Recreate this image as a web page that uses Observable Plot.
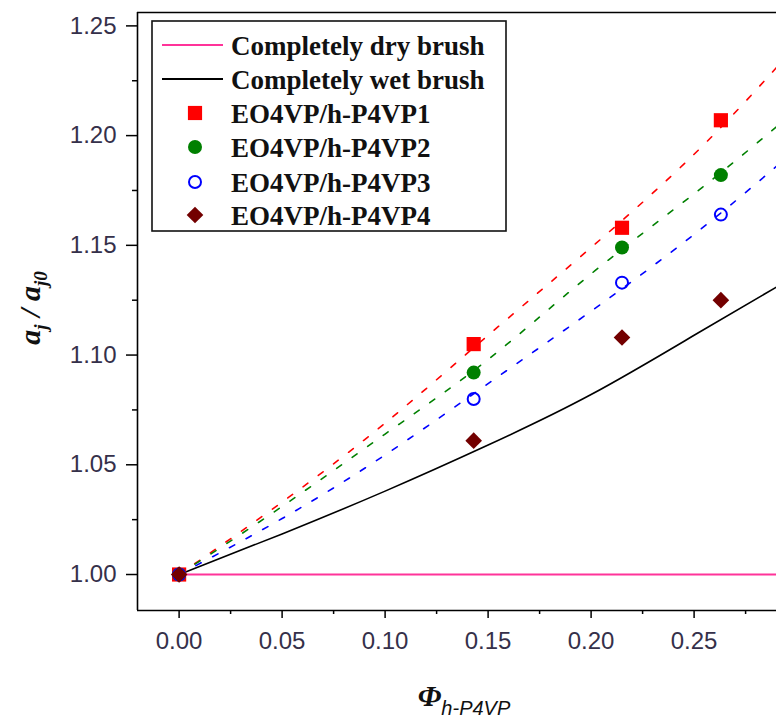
<!DOCTYPE html>
<html>
<head>
<meta charset="utf-8">
<script src="https://cdn.jsdelivr.net/npm/d3@7"></script>
<script src="https://cdn.jsdelivr.net/npm/@observablehq/plot@0.6"></script>
<style>
  body { margin: 0; background: #fff; }
  #chart svg { display: block; }
</style>
</head>
<body>
<div id="chart"></div>
<script>
// ---- data ----
const phiFit = [0, 0.05, 0.10, 0.15, 0.20, 0.25, 0.29];
const fitP1  = [1.000, 1.033, 1.069, 1.109, 1.149, 1.1915, 1.231];
const fitP2  = [1.000, 1.031, 1.064, 1.098, 1.137, 1.1735, 1.204];
const fitP3  = [1.000, 1.0255, 1.0545, 1.087, 1.120, 1.155, 1.186];
const wetBrush = [1.000, 1.0185, 1.038, 1.059, 1.082, 1.109, 1.131];
const dryBrush = [1.000, 1.000, 1.000, 1.000, 1.000, 1.000, 1.000];

const phiExp = [0, 0.143, 0.215, 0.263];
const expP1 = [1.000, 1.105, 1.158, 1.207];
const expP2 = [1.000, 1.092, 1.149, 1.182];
const expP3 = [1.000, 1.080, 1.133, 1.164];
const expP4 = [1.000, 1.061, 1.108, 1.125];

const legendLabels = ["Completely dry brush", "Completely wet brush",
  "EO4VP/h-P4VP1", "EO4VP/h-P4VP2", "EO4VP/h-P4VP3", "EO4VP/h-P4VP4"];

const xTicks = [0, 0.05, 0.10, 0.15, 0.20, 0.25];
const xMinor = [0.025, 0.075, 0.125, 0.175, 0.225, 0.275];
const yTicks = [1.00, 1.05, 1.10, 1.15, 1.20, 1.25];
const yMinor = [1.025, 1.075, 1.125, 1.175, 1.225];

// ---- styles ----
const colDry = "#ff3399", colWet = "#000000";
const colP1 = "#ff0000", colP2 = "#008000", colP3 = "#0000ff", colP4 = "#730000";
const tickText = "#35304a";

const rows = (xs, ys) => xs.map((x, i) => ({x, y: ys[i]}));
const xDomain = [-0.0202, 0.29];
const yDomain = [0.9836, 1.2561];

const dash = "6,13";
const plot = Plot.plot({
  width: 776, height: 719,
  marginLeft: 137, marginRight: 0, marginTop: 12, marginBottom: 109,
  x: {domain: xDomain},
  y: {domain: yDomain},
  style: {fontFamily: "'Liberation Sans', Arial, sans-serif", fontSize: "24px", background: "white", color: "black"},
  marks: [
    // frame (left, top, bottom)
    Plot.ruleX([xDomain[0]], {stroke: "#000", strokeWidth: 1.6}),
    Plot.ruleY([yDomain[1]], {stroke: "#000", strokeWidth: 1.6}),
    Plot.ruleY([yDomain[0]], {stroke: "#000", strokeWidth: 1.6}),
    // axes
    Plot.axisX({ticks: xTicks, tickSize: 8, tickPadding: 13, tickFormat: d3.format(".2f"), label: null,
                stroke: "#000", strokeWidth: 1.5, fill: tickText, fontSize: 24}),
    Plot.axisX({ticks: xMinor, tickSize: 4, text: null, label: null, stroke: "#000", strokeWidth: 1.5}),
    Plot.axisY({ticks: yTicks, tickSize: 11, tickPadding: 10, tickFormat: d3.format(".2f"), label: null,
                stroke: "#000", strokeWidth: 1.5, fill: tickText, fontSize: 24}),
    Plot.axisY({ticks: yMinor, tickSize: 5, text: null, label: null, stroke: "#000", strokeWidth: 1.5}),
    // model curves
    Plot.line(rows(phiFit, dryBrush), {x: "x", y: "y", stroke: colDry, strokeWidth: 1.8, clip: true}),
    Plot.line(rows(phiFit, wetBrush), {x: "x", y: "y", stroke: colWet, strokeWidth: 1.6, curve: "natural", clip: true}),
    Plot.line(rows(phiFit, fitP1), {x: "x", y: "y", stroke: colP1, strokeWidth: 1.6, strokeDasharray: dash, curve: "natural", clip: true}),
    Plot.line(rows(phiFit, fitP2), {x: "x", y: "y", stroke: colP2, strokeWidth: 1.6, strokeDasharray: dash, curve: "natural", clip: true}),
    Plot.line(rows(phiFit, fitP3), {x: "x", y: "y", stroke: colP3, strokeWidth: 1.6, strokeDasharray: dash, curve: "natural", clip: true}),
    // experimental points
    Plot.dot(rows(phiExp, expP1), {x: "x", y: "y", symbol: "square", r: 8, fill: colP1, stroke: "none"}),
    Plot.dot(rows(phiExp, expP2), {x: "x", y: "y", symbol: "circle", r: 7, fill: colP2, stroke: "none"}),
    Plot.dot(rows(phiExp, expP3), {x: "x", y: "y", symbol: "circle", r: 6, fill: "none", stroke: colP3, strokeWidth: 2}),
    Plot.dot(rows(phiExp, expP4), {x: "x", y: "y", symbol: "diamond2", r: 7.5, fill: colP4, stroke: "none"})
  ]
});

const svg = d3.select(plot);

// ---- legend ----
const lg = svg.append("g").attr("text-anchor", "start");
lg.append("rect").attr("x", 152).attr("y", 21).attr("width", 354).attr("height", 210)
  .attr("fill", "white").attr("stroke", "#111").attr("stroke-width", 1.6);
const rowY = [45, 79, 113, 147, 182, 215];
const lineCols = [colDry, colWet];
legendLabels.forEach((lab, i) => {
  const y = rowY[i];
  if (i < 2) {
    lg.append("line").attr("x1", 162).attr("x2", 223).attr("y1", y).attr("y2", y)
      .attr("stroke", lineCols[i]).attr("stroke-width", 1.8);
  } else {
    const sym = [d3.symbolSquare, d3.symbolCircle, d3.symbolCircle, d3.symbolDiamond2][i - 2];
    const r = [8, 7, 6, 7.5][i - 2];
    const p = lg.append("path").attr("transform", `translate(195,${y})`)
      .attr("d", d3.symbol(sym, Math.PI * r * r)());
    if (i === 4) p.attr("fill", "none").attr("stroke", colP3).attr("stroke-width", 2);
    else p.attr("fill", [colP1, colP2, null, colP4][i - 2]);
  }
  lg.append("text").attr("x", 231).attr("y", y + 10).attr("text-anchor", "start")
    .attr("font-family", "'Liberation Serif', 'Times New Roman', serif")
    .attr("font-weight", "bold").attr("font-size", 27).attr("fill", "#111")
    .text(lab);
});

// ---- axis titles ----
const yt = svg.append("text").attr("transform", "translate(40,308) rotate(-90)")
  .attr("text-anchor", "middle")
  .attr("font-family", "'Liberation Serif', 'Times New Roman', serif")
  .attr("font-style", "italic").attr("font-weight", "bold").attr("font-size", 30).attr("fill", "#111");
yt.append("tspan").text("a");
yt.append("tspan").attr("font-size", 19).attr("dy", 7).text("j");
yt.append("tspan").attr("dy", -7).text(" / a");
yt.append("tspan").attr("font-size", 19).attr("dy", 7).text("j0");

const xt = svg.append("text").attr("x", 464).attr("y", 706).attr("text-anchor", "middle")
  .attr("fill", "#111");
xt.append("tspan").attr("font-family", "'Liberation Serif', 'Times New Roman', serif")
  .attr("font-style", "italic").attr("font-weight", "bold").attr("font-size", 30).text("Φ");
xt.append("tspan").attr("font-family", "'Liberation Sans', Arial, sans-serif")
  .attr("font-style", "italic").attr("font-size", 20).attr("dy", 9).text("h-P4VP");

document.getElementById("chart").appendChild(plot);
</script>
</body>
</html>
